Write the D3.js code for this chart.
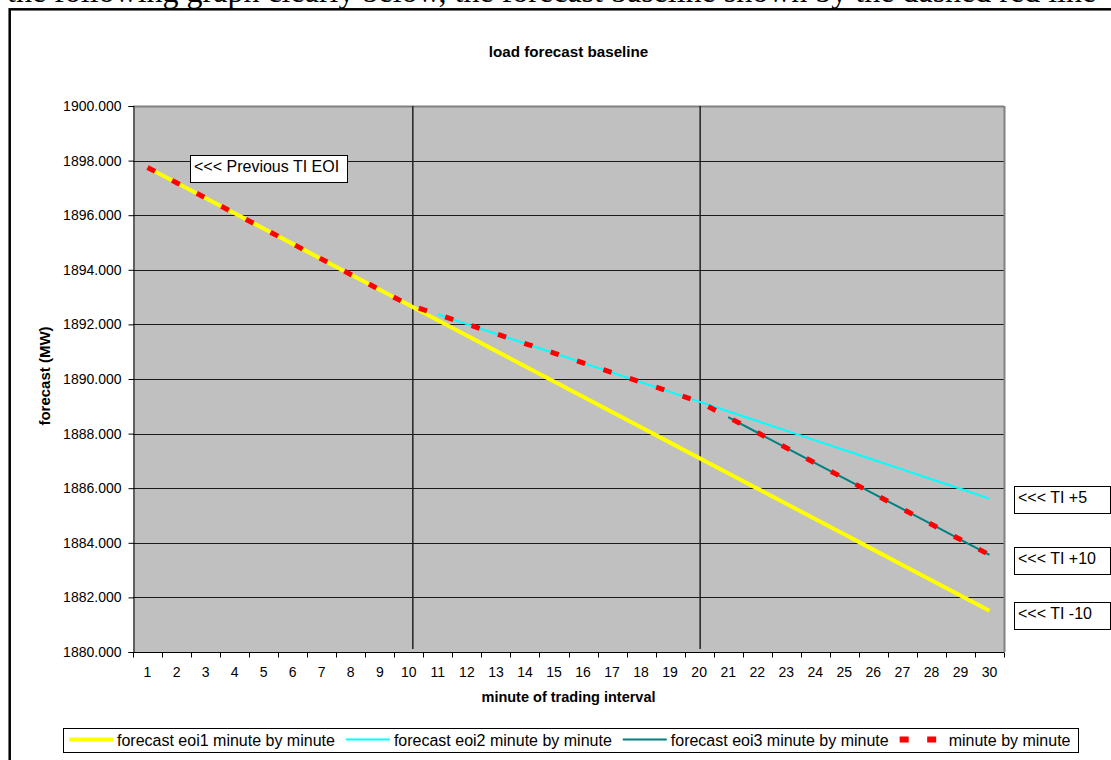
<!DOCTYPE html>
<html>
<head>
<meta charset="utf-8">
<script src="https://cdn.jsdelivr.net/npm/d3@7"></script>
<style>
  html, body { margin: 0; padding: 0; background: #fff; }
  svg { display: block; }
</style>
</head>
<body>
<svg id="chart" width="1111" height="760"></svg>
<script>
// ---------------- data ----------------
const minutes = [1,2,3,4,5,6,7,8,9,10,11,12,13,14,15,16,17,18,19,20,21,22,23,24,25,26,27,28,29,30];
const eoi1 = [1897.75,1897.19,1896.63,1896.07,1895.51,1894.95,1894.39,1893.83,1893.27,1892.71,
              1892.15,1891.59,1891.03,1890.47,1889.91,1889.35,1888.79,1888.23,1887.67,1887.11,
              1886.55,1885.99,1885.43,1884.87,1884.31,1883.75,1883.19,1882.63,1882.07,1881.51];
const eoi2 = [null,null,null,null,null,null,null,null,null,null,
              1892.37,1892.01,1891.66,1891.30,1890.95,1890.59,1890.24,1889.88,1889.53,1889.17,
              1888.82,1888.46,1888.11,1887.75,1887.40,1887.04,1886.69,1886.33,1885.98,1885.62];
const eoi3 = [null,null,null,null,null,null,null,null,null,null,
              null,null,null,null,null,null,null,null,null,null,
              1888.60,1888.04,1887.48,1886.92,1886.36,1885.80,1885.24,1884.68,1884.12,1883.56];
const minuteByMinute = [1897.75,1897.19,1896.63,1896.07,1895.51,1894.95,1894.39,1893.83,1893.27,1892.71,
              1892.37,1892.01,1891.66,1891.30,1890.95,1890.59,1890.24,1889.88,1889.53,1889.17,
              1888.60,1888.04,1887.48,1886.92,1886.36,1885.80,1885.24,1884.68,1884.12,1883.56];
const yTicks = [1880,1882,1884,1886,1888,1890,1892,1894,1896,1898,1900];
const seriesNames = ["forecast eoi1 minute by minute","forecast eoi2 minute by minute","forecast eoi3 minute by minute","minute by minute"];
const markerMinutes = [10, 20];
const noteLabels = ["<<< Previous TI EOI","<<< TI +5","<<< TI +10","<<< TI -10"];

// ---------------- layout ----------------
const svg = d3.select("#chart");
const P = {left:133, right:1004, top:106, bottom:652};
const x = d3.scaleBand().domain(minutes).range([P.left, P.right]).padding(0);
const bw = x.bandwidth();
const cx = m => x(m) + bw/2;
const y = d3.scaleLinear().domain([1880,1900]).range([P.bottom, P.top]);
const FONT = "'Liberation Sans', Arial, sans-serif";

// text above chart (document text, cropped at the top edge as in the reference)
svg.append("text").attr("x", 7).attr("y", 1.5)
  .attr("font-family","'Liberation Serif', 'Times New Roman', serif").attr("font-size", 32)
  .text("the following graph clearly below, the forecast baseline shown by the dashed red line");

// outer chart border
svg.append("rect").attr("x", 9.7).attr("y", 9.3).attr("width", 1200).attr("height", 900)
  .attr("fill", "#fff").attr("stroke", "#000").attr("stroke-width", 2.5);

// plot area
svg.append("rect").attr("x", P.left).attr("y", P.top).attr("width", P.right-P.left).attr("height", P.bottom-P.top)
  .attr("fill", "#C0C0C0");

// horizontal gridlines
svg.append("g").selectAll("line").data(yTicks.filter(d => d !== 1880)).join("line")
  .attr("x1", P.left).attr("x2", P.right)
  .attr("y1", d => Math.round(y(d)) + 0.5).attr("y2", d => Math.round(y(d)) + 0.5)
  .attr("stroke", d => d === 1900 ? "#808080" : "#1a1a1a").attr("stroke-width", d => d === 1900 ? 2 : 1);

// right border of plot
svg.append("line").attr("x1", P.right+0.5).attr("x2", P.right+0.5).attr("y1", P.top).attr("y2", P.bottom)
  .attr("stroke", "#808080").attr("stroke-width", 2);

// vertical marker lines
svg.append("g").selectAll("line").data(markerMinutes).join("line")
  .attr("x1", (d,i) => cx(d) + (i===0 ? 4 : 1)).attr("x2", (d,i) => cx(d) + (i===0 ? 4 : 1))
  .attr("y1", P.top).attr("y2", P.bottom - 3)
  .attr("stroke", "#222").attr("stroke-width", 1.5);

// axes
const yAxis = d3.axisLeft(y).tickValues(yTicks).tickFormat(d3.format(".3f")).tickSize(5).tickPadding(7);
const gy = svg.append("g").attr("transform", `translate(${P.left+0.5},0)`).call(yAxis);
gy.select(".domain").attr("stroke", "#000");
gy.selectAll(".tick line").attr("stroke", "#000");
gy.selectAll("text").attr("font-family", FONT).attr("font-size", 14).attr("fill", "#000");

const gx = svg.append("g").attr("transform", `translate(0,${P.bottom+0.5})`);
gx.append("line").attr("x1", P.left).attr("x2", P.right).attr("stroke", "#000");
const bounds = minutes.map(m => x(m)).concat([P.right]);
gx.selectAll("line.tk").data(bounds).join("line").attr("class","tk")
  .attr("x1", d => Math.round(d)+0.5).attr("x2", d => Math.round(d)+0.5).attr("y1", 0).attr("y2", 5)
  .attr("stroke", "#000");
gx.selectAll("text").data(minutes).join("text")
  .attr("x", d => cx(d)).attr("y", 24.5).attr("text-anchor", "middle")
  .attr("font-family", FONT).attr("font-size", 14).text(d => d);

// titles
svg.append("text").attr("x", (P.left+P.right)/2).attr("y", 57).attr("text-anchor","middle")
  .attr("font-family", FONT).attr("font-size", 15.2).attr("font-weight","bold").text("load forecast baseline");
svg.append("text").attr("x", (P.left+P.right)/2).attr("y", 702).attr("text-anchor","middle")
  .attr("font-family", FONT).attr("font-size", 14.5).attr("font-weight","bold").text("minute of trading interval");
svg.append("text").attr("transform", `translate(50,${(P.top+P.bottom)/2 - 3}) rotate(-90)`).attr("text-anchor","middle")
  .attr("font-family", FONT).attr("font-size", 15).attr("font-weight","bold").text("forecast (MW)");

// series
const lineGen = vals => d3.line()
  .defined((d,i) => vals[i] !== null)
  .x((d,i) => cx(minutes[i]))
  .y((d,i) => y(vals[i]))(vals);

const styles = [
  {vals: eoi1, color: "#FFFF00", w: 4},
  {vals: eoi2, color: "#00FFFF", w: 2},
  {vals: eoi3, color: "#008080", w: 2},
  {vals: minuteByMinute, color: "#FF0000", w: 5, dash: "8.5,19.3"}
];
styles.forEach(s => {
  svg.append("path").attr("d", lineGen(s.vals)).attr("fill","none")
    .attr("stroke", s.color).attr("stroke-width", s.w)
    .attr("stroke-dasharray", s.dash || null);
});

// note boxes
const notes = [
  {t: noteLabels[0], x: 190, y: 155, w: 157},
  {t: noteLabels[1], x: 1014, y: 486, w: 96},
  {t: noteLabels[2], x: 1014, y: 547, w: 96},
  {t: noteLabels[3], x: 1014, y: 602, w: 96}
];
notes.forEach(n => {
  svg.append("rect").attr("x", n.x+0.5).attr("y", n.y+0.5).attr("width", n.w).attr("height", 27)
    .attr("fill","#fff").attr("stroke","#000").attr("stroke-width",1);
  svg.append("text").attr("x", n.x+4).attr("y", n.y+17).attr("font-family", FONT).attr("font-size", 16).text(n.t);
});

// legend
svg.append("rect").attr("x", 63.5).attr("y", 728.5).attr("width", 1015).attr("height", 24)
  .attr("fill","#fff").attr("stroke","#000").attr("stroke-width",1);
let lx = 69;
const ly = 739.5;
styles.forEach((s, i) => {
  const g = svg.append("g");
  if (s.dash) {
    g.append("line").attr("x1", lx).attr("x2", lx+38).attr("y1", ly).attr("y2", ly)
      .attr("stroke", s.color).attr("stroke-width", 6).attr("stroke-dasharray", "9,18.5");
    lx += 49;
  } else {
    g.append("line").attr("x1", lx).attr("x2", lx+44).attr("y1", ly).attr("y2", ly)
      .attr("stroke", s.color).attr("stroke-width", s.w === 4 ? 4 : 2);
    lx += 48;
  }
  const t = g.append("text").attr("x", lx).attr("y", 745.5).attr("font-family", FONT).attr("font-size", 16)
    .text(seriesNames[i]);
  lx += t.node().getComputedTextLength() + 11;
});
</script>
</body>
</html>
